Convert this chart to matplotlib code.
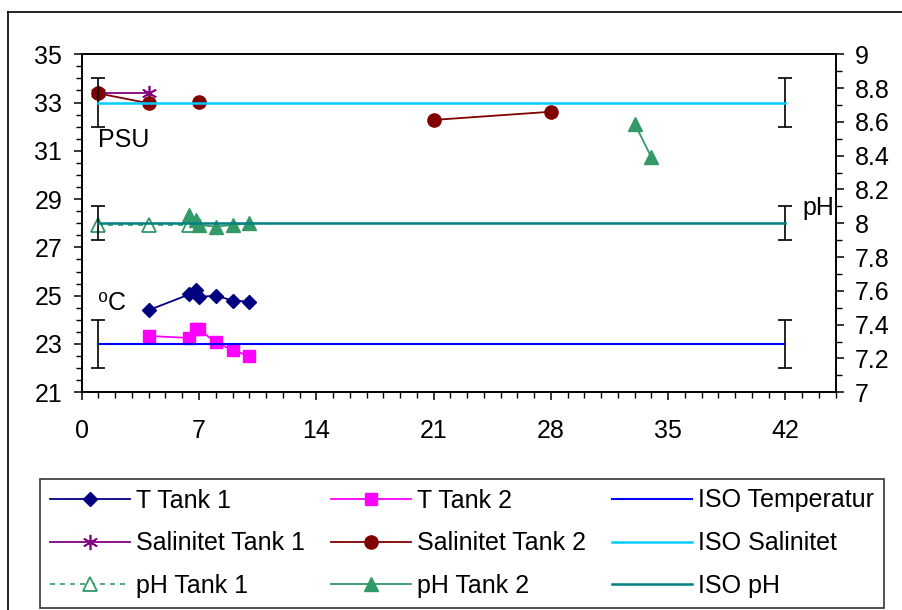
import numpy as np
import matplotlib
matplotlib.use('Agg')
import matplotlib.pyplot as plt
from matplotlib.lines import Line2D

plt.rcParams['font.family'] = ['Liberation Sans', 'DejaVu Sans']

nan = np.nan

# days of measurement (common grid, nan = no measurement -> gap in line)
days = [1, 4, 6.4, 6.8, 7, 8, 9, 10, 21, 28, 33, 34]

t_tank1 = [nan, 24.4, 25.05, 25.25, 24.95, 25.0, 24.8, 24.75, nan, nan, nan, nan]
t_tank2 = [nan, 23.33, 23.25, 23.6, 23.6, 23.07, 22.75, 22.5, nan, nan, nan, nan]
sal_tank1 = [33.38, 33.38, nan, nan, nan, nan, nan, nan, nan, nan, nan, nan]
sal_tank2 = [33.38, 32.97, nan, nan, 33.01, nan, nan, nan, 32.28, 32.62, nan, nan]
ph_tank1 = [7.99, 7.99, 7.99, nan, nan, nan, nan, nan, nan, nan, nan, nan]
ph_tank2 = [nan, nan, 8.05, 8.02, 7.99, 7.98, 7.99, 8.0, nan, nan, 8.59, 8.39]

# ISO reference lines with tolerance (error bars at ends)
iso_days = [1, 42]
iso_temp = [23, 23]
iso_sal = [33, 33]
iso_ph = [8, 8]
iso_temp_err = 1
iso_sal_err = 1
iso_ph_err = 0.1

fs = 18

fig = plt.figure(figsize=(9.03, 6.10), dpi=100)
ax = fig.add_axes([0.0905, 0.357, 0.835, 0.554])
ax2 = ax.twinx()

# outer chart frame (top + left edge)
fig.add_artist(Line2D([8 / 903, 1], [1 - 12 / 610, 1 - 12 / 610], color='black', lw=1.2))
fig.add_artist(Line2D([8 / 903, 8 / 903], [1 - 12 / 610, 0], color='black', lw=1.2))

lw = 1.3
h_t1, = ax.plot(days, t_tank1, color='#000080', lw=lw, marker='D', ms=7.5, label='T Tank 1')
h_t2, = ax.plot(days, t_tank2, color='#FF00FF', lw=lw, marker='s', ms=9, label='T Tank 2')
h_it = ax.errorbar(iso_days, iso_temp, yerr=iso_temp_err, color='#0000FF', lw=1.5,
                   ecolor='black', elinewidth=1.2, capsize=5, capthick=1.2)
h_s1, = ax.plot(days, sal_tank1, color='#800080', lw=lw, marker=(6, 2, 0), ms=11,
                mew=1.2, label='Salinitet Tank 1')
h_s2, = ax.plot(days, sal_tank2, color='#800000', lw=lw, marker='o', ms=9.5, label='Salinitet Tank 2')
h_is = ax.errorbar(iso_days, iso_sal, yerr=iso_sal_err, color='#00CCFF', lw=1.8,
                   ecolor='black', elinewidth=1.2, capsize=5, capthick=1.2)

h_p1, = ax2.plot(days, ph_tank1, color='#339966', lw=1.2, ls=(0, (3, 3)), marker='^', ms=9.5,
                 mfc='white', mec='#339966', mew=1.3, label='pH Tank 1')
h_p2, = ax2.plot(days, ph_tank2, color='#339966', lw=lw, marker='^', ms=9.5, label='pH Tank 2')
h_ip = ax2.errorbar(iso_days, iso_ph, yerr=iso_ph_err, color='#008080', lw=1.8,
                    ecolor='black', elinewidth=1.2, capsize=5, capthick=1.2)

h_it[0].set_label('ISO Temperatur')
h_is[0].set_label('ISO Salinitet')
h_ip[0].set_label('ISO pH')

ax.set_xlim(0, 45)
ax.set_ylim(21, 35)
ax2.set_ylim(7, 9)
ax.set_xticks(np.arange(0, 43, 7))
ax.set_xticks(np.arange(0, 46, 1), minor=True)
ax.set_yticks(np.arange(21, 36, 2))
ax.set_yticks(np.arange(21, 35.1, 0.5), minor=True)
ax2.set_yticks(np.arange(7, 9.01, 0.2))
ax2.set_yticks(np.arange(7, 9.01, 0.1), minor=True)
ax2.set_yticklabels(['7', '7.2', '7.4', '7.6', '7.8', '8', '8.2', '8.4', '8.6', '8.8', '9'])

for a in (ax, ax2):
    for s in a.spines.values():
        s.set_linewidth(1.2)
ax.tick_params(axis='both', which='major', direction='out', length=6, width=1.1, labelsize=fs)
ax.tick_params(axis='both', which='minor', direction='out', length=4, width=1.0)
ax.tick_params(axis='y', pad=8)
ax.tick_params(axis='x', pad=13)
ax2.tick_params(axis='y', which='major', direction='out', length=6, width=1.1, labelsize=fs, pad=8)
ax2.tick_params(axis='y', which='minor', direction='out', length=4, width=1.0)

ax.text(1.0, 31.45, 'PSU', fontsize=fs, ha='left', va='center')
ax.text(1.0, 24.7, '\u2070C', fontsize=fs, ha='left', va='center')
ax2.text(43.0, 8.09, 'pH', fontsize=fs, ha='left', va='center')

handles = [h_t1, h_s1, h_p1, h_t2, h_s2, h_p2, h_it[0], h_is[0], h_ip[0]]
labels = [h.get_label() for h in handles]
leg = fig.legend(handles, labels, ncol=3, loc='lower left',
                 bbox_to_anchor=(40 / 903, 2 / 610, 844 / 903, 132 / 610), mode='expand',
                 fontsize=fs, numpoints=1, handlelength=3.2, handletextpad=0.25,
                 columnspacing=0.9, labelspacing=0.75, borderpad=0.4,
                 frameon=True, fancybox=False, edgecolor='black', borderaxespad=0)
leg.get_frame().set_linewidth(1.2)

fig.savefig('out.png', dpi=100)
